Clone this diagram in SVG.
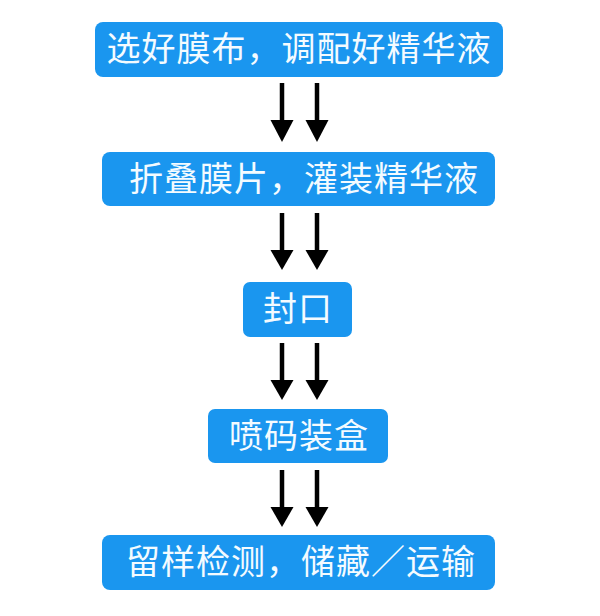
<svg xmlns="http://www.w3.org/2000/svg" width="600" height="616" viewBox="0 0 600 616">
<style>
.box{fill:#1a96ef;}
.lbl{fill:#f4fbff;font-family:"Noto Sans CJK SC","Noto Sans",sans-serif;font-size:34px;text-anchor:middle;letter-spacing:1px;}
.shaft{stroke:#000;stroke-width:4.5;}
.head{fill:#000;}
</style>
<rect width="600" height="616" fill="#fff"/>
<g id="connectors">
<g id="a1">
<line class="shaft" x1="282" y1="83" x2="282" y2="122"/><polygon class="head" points="270.5,120 293.5,120 282,142"/>
<line class="shaft" x1="317" y1="83" x2="317" y2="122"/><polygon class="head" points="305.5,120 328.5,120 317,142"/>
</g>
<g id="a2">
<line class="shaft" x1="282" y1="213" x2="282" y2="252"/><polygon class="head" points="270.5,250 293.5,250 282,270"/>
<line class="shaft" x1="317" y1="213" x2="317" y2="252"/><polygon class="head" points="305.5,250 328.5,250 317,270"/>
</g>
<g id="a3">
<line class="shaft" x1="282" y1="343" x2="282" y2="382"/><polygon class="head" points="270.5,380 293.5,380 282,400"/>
<line class="shaft" x1="317" y1="343" x2="317" y2="382"/><polygon class="head" points="305.5,380 328.5,380 317,400"/>
</g>
<g id="a4">
<line class="shaft" x1="282" y1="470" x2="282" y2="509"/><polygon class="head" points="270.5,507 293.5,507 282,527"/>
<line class="shaft" x1="317" y1="470" x2="317" y2="509"/><polygon class="head" points="305.5,507 328.5,507 317,527"/>
</g>
</g>
<g id="n1"><rect class="box" x="95" y="22" width="408" height="55" rx="8"/><text class="lbl" x="299" y="61">选好膜布，调配好精华液</text></g>
<g id="n2"><rect class="box" x="102" y="152" width="393" height="54" rx="8"/><text class="lbl" x="304" y="191">折叠膜片，灌装精华液</text></g>
<g id="n3"><rect class="box" x="243" y="282" width="109" height="55" rx="7"/><text class="lbl" x="298" y="321">封口</text></g>
<g id="n4"><rect class="box" x="208" y="409" width="180" height="54" rx="7"/><text class="lbl" x="299" y="448">喷码装盒</text></g>
<g id="n5"><rect class="box" x="102" y="535" width="393" height="55" rx="8"/><text class="lbl" x="301" y="574">留样检测，储藏／运输</text></g>
</svg>
